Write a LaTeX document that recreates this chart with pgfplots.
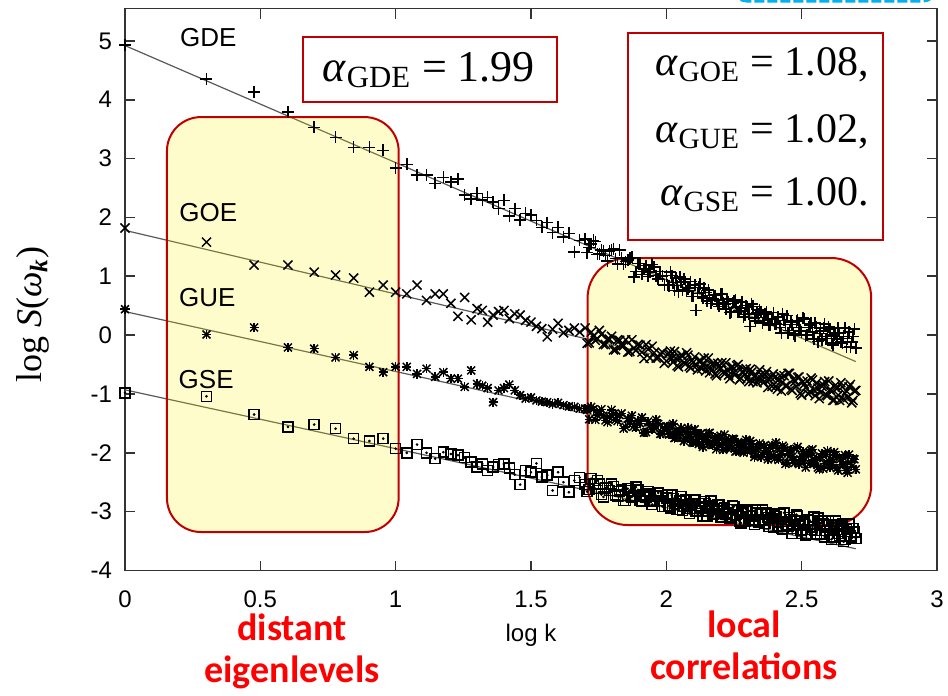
\documentclass[border=0pt]{standalone}
\usepackage{fontspec}
\setmainfont{Liberation Sans}
\newfontfamily\tnr{Liberation Serif}
\newfontfamily\calib{Carlito}
\usepackage{pgfplots}
\usepackage{pgfplotstable}
\pgfplotsset{compat=1.18}

\definecolor{boxred}{RGB}{192,0,0}
\definecolor{hlred}{RGB}{255,0,0}
\definecolor{skyblue}{RGB}{0,176,240}

% log k, then log S for the four ensembles
\pgfplotstableread{
x gde goe gue gse
0.000 4.93 1.82 0.44 -0.98
0.301 4.35 1.58 0.01 -1.04
0.477 4.13 1.19 0.13 -1.35
0.602 3.79 1.19 -0.21 -1.56
0.699 3.53 1.07 -0.23 -1.52
0.778 3.36 1.02 -0.38 -1.59
0.845 3.19 0.97 -0.34 -1.76
0.903 3.19 0.73 -0.54 -1.80
0.954 3.14 0.85 -0.63 -1.76
1.000 2.84 0.73 -0.54 -1.93
1.041 2.90 0.70 -0.54 -2.00
1.079 2.72 0.85 -0.66 -1.86
1.114 2.72 0.59 -0.57 -2.00
1.146 2.58 0.70 -0.71 -2.10
1.176 2.68 0.70 -0.63 -1.99
1.204 2.60 0.54 -0.74 -2.02
1.230 2.65 0.32 -0.74 -2.04
1.255 2.38 0.64 -0.88 -2.08
1.279 2.31 0.26 -0.60 -2.16
1.301 2.41 0.45 -0.83 -2.24
1.32 2.30 0.42 -0.86 -2.19
1.34 2.34 0.22 -0.90 -2.30
1.36 2.26 0.34 -1.14 -2.24
1.38 2.15 0.40 -0.94 -2.20
1.40 2.29 0.42 -0.90 -2.19
1.42 2.02 0.28 -0.84 -2.26
1.44 2.15 0.36 -0.94 -2.37
1.46 1.96 0.34 -1.02 -2.54
1.48 2.07 0.25 -1.08 -2.30
1.50 2.04 0.22 -1.06 -2.33
1.52 1.95 0.15 -1.11 -2.18
1.54 1.83 0.11 -1.13 -2.41
1.56 1.91 -0.03 -1.14 -2.38
1.58 1.74 0.10 -1.17 -2.64
1.60 1.83 0.20 -1.15 -2.33
1.62 1.67 0.04 -1.19 -2.50
1.64 1.73 0.08 -1.21 -2.67
1.66 1.41 0.12 -1.22 -2.47
1.68 1.61 0.05 -1.25 -2.42
1.700 1.63 0.12 -1.25 -2.54
1.715 1.49 -0.13 -1.43 -2.62
1.730 1.61 -0.02 -1.26 -2.53
1.745 1.37 -0.06 -1.36 -2.47
1.760 1.45 0.01 -1.26 -2.71
1.775 1.35 -0.16 -1.45 -2.60
1.790 1.43 -0.07 -1.39 -2.64
1.805 1.47 -0.25 -1.34 -2.57
1.820 1.21 -0.08 -1.46 -2.73
1.835 1.31 -0.18 -1.33 -2.63
1.850 1.25 -0.08 -1.56 -2.81
1.865 1.31 -0.28 -1.46 -2.64
1.880 0.99 -0.22 -1.55 -2.73
1.895 1.22 -0.16 -1.46 -2.63
1.910 1.03 -0.29 -1.40 -2.82
1.925 1.18 -0.16 -1.65 -2.75
1.940 1.07 -0.39 -1.53 -2.70
1.955 1.16 -0.30 -1.58 -2.82
1.970 0.95 -0.38 -1.51 -2.68
1.985 1.00 -0.29 -1.67 -2.91
1.7075 1.40 -0.14 -1.27 -2.66
1.7225 1.55 0.05 -1.22 -2.44
1.7375 1.59 -0.09 -1.44 -2.61
1.7525 1.38 0.08 -1.29 -2.53
1.7675 1.43 -0.16 -1.37 -2.75
1.7825 1.26 -0.07 -1.48 -2.59
1.7975 1.45 -0.02 -1.27 -2.53
1.8125 1.30 -0.25 -1.44 -2.72
1.8275 1.45 -0.09 -1.36 -2.66
1.8425 1.20 -0.18 -1.59 -2.81
1.8575 1.28 -0.29 -1.42 -2.61
1.8725 1.32 -0.08 -1.37 -2.75
1.8875 1.08 -0.26 -1.57 -2.58
1.9025 1.22 -0.17 -1.50 -2.81
1.9175 1.12 -0.40 -1.66 -2.72
1.9325 1.00 -0.24 -1.47 -2.66
1.9475 1.20 -0.19 -1.60 -2.88
1.9625 1.01 -0.39 -1.44 -2.73
1.9775 1.08 -0.32 -1.68 -2.81
1.9925 0.85 -0.48 -1.58 -2.91
2.00 1.01 -0.44 -1.55 -2.77
2.01 0.84 -0.31 -1.69 -2.90
2.02 1.01 -0.40 -1.54 -2.72
2.03 0.76 -0.28 -1.75 -2.86
2.04 0.84 -0.52 -1.65 -2.96
2.05 0.99 -0.39 -1.71 -2.82
2.06 0.77 -0.35 -1.63 -2.98
2.07 0.89 -0.49 -1.76 -2.80
2.08 0.79 -0.34 -1.58 -2.89
2.09 0.91 -0.56 -1.72 -2.95
2.10 0.66 -0.46 -1.83 -2.79
2.11 0.42 -0.52 -1.69 -2.99
2.12 0.81 -0.44 -1.85 -2.86
2.13 0.66 -0.57 -1.67 -2.95
2.14 0.80 -0.39 -1.76 -2.83
2.15 0.58 -0.53 -1.82 -3.07
2.16 0.67 -0.64 -1.66 -2.94
2.17 0.60 -0.50 -1.87 -2.90
2.18 0.67 -0.66 -1.74 -3.03
2.19 0.53 -0.48 -1.83 -2.88
2.20 0.70 -0.57 -1.71 -3.09
2.21 0.55 -0.63 -1.95 -2.99
2.22 0.44 -0.47 -1.82 -3.05
2.23 0.57 -0.68 -1.78 -2.96
2.24 0.40 -0.55 -1.92 -3.09
2.25 0.58 -0.64 -1.77 -2.91
2.26 0.48 -0.52 -1.97 -3.05
2.27 0.41 -0.76 -1.87 -3.16
2.28 0.56 -0.63 -1.93 -3.01
2.29 0.35 -0.59 -1.85 -3.17
2.30 0.47 -0.73 -1.98 -2.99
2.31 0.15 -0.58 -1.80 -3.08
2.32 0.49 -0.79 -1.94 -3.14
2.33 0.24 -0.69 -2.05 -2.97
2.34 0.36 -0.75 -1.91 -3.18
2.35 0.40 -0.67 -2.07 -3.05
2.36 0.25 -0.80 -1.88 -3.14
2.37 0.39 -0.62 -1.97 -3.02
2.38 0.17 -0.76 -2.03 -3.25
2.39 0.27 -0.87 -1.87 -3.12
2.40 0.19 -0.72 -2.10 -3.06
2.41 0.30 -0.92 -1.93 -3.24
2.42 0.13 -0.69 -2.04 -3.04
2.43 0.36 -0.80 -1.88 -3.30
2.44 0.18 -0.86 -2.19 -3.17
2.45 0.04 -0.65 -2.01 -3.24
2.46 0.22 -0.92 -1.95 -3.13
2.47 0.02 -0.75 -2.13 -3.29
2.48 0.24 -0.87 -1.93 -3.05
2.49 0.13 -0.71 -2.19 -3.23
2.50 0.06 -1.02 -2.06 -3.37
2.51 0.27 -0.83 -2.13 -3.18
2.52 0.00 -0.78 -2.01 -3.38
2.53 0.17 -0.96 -2.18 -3.15
2.54 0.05 -0.76 -1.94 -3.26
2.55 0.21 -1.03 -2.12 -3.32
2.56 -0.11 -0.90 -2.25 -3.11
2.57 0.07 -0.97 -2.07 -3.38
2.58 0.12 -0.85 -2.27 -3.21
2.59 -0.06 -1.02 -2.03 -3.32
2.60 0.14 -0.78 -2.14 -3.16
2.61 -0.13 -0.96 -2.21 -3.47
2.62 0.00 -1.10 -1.99 -3.28
2.63 -0.07 -0.91 -2.26 -3.23
2.64 0.04 -1.11 -2.08 -3.41
2.65 -0.13 -0.88 -2.20 -3.21
2.66 0.12 -0.99 -2.04 -3.47
2.67 -0.06 -1.06 -2.34 -3.34
2.68 -0.20 -0.84 -2.16 -3.41
2.69 -0.02 -1.11 -2.10 -3.29
2.70 -0.22 -0.94 -2.28 -3.46
2.005 0.86 -0.33 -1.55 -2.72
2.015 1.07 -0.27 -1.68 -2.94
2.025 0.89 -0.46 -1.51 -2.78
2.035 0.97 -0.39 -1.74 -2.86
2.045 0.74 -0.54 -1.64 -2.96
2.055 0.90 -0.34 -1.58 -2.74
2.065 0.95 -0.47 -1.80 -2.91
2.075 0.75 -0.30 -1.64 -2.81
2.085 0.81 -0.53 -1.72 -3.03
2.095 0.66 -0.43 -1.82 -2.86
2.105 0.85 -0.37 -1.60 -2.80
2.115 0.71 -0.59 -1.77 -2.99
2.125 0.87 -0.43 -1.68 -2.92
2.135 0.63 -0.51 -1.90 -3.07
2.145 0.72 -0.61 -1.73 -2.86
2.155 0.77 -0.39 -1.67 -2.99
2.165 0.54 -0.56 -1.86 -2.82
2.175 0.69 -0.47 -1.79 -3.05
2.185 0.60 -0.69 -1.94 -2.95
2.195 0.49 -0.53 -1.74 -2.89
2.205 0.70 -0.47 -1.87 -3.10
2.215 0.53 -0.66 -1.69 -2.94
2.225 0.61 -0.59 -1.92 -3.02
2.235 0.38 -0.74 -1.82 -3.12
2.245 0.54 -0.54 -1.76 -2.90
2.255 0.60 -0.67 -1.98 -3.06
2.265 0.40 -0.50 -1.82 -2.97
2.275 0.46 -0.73 -1.90 -3.19
2.285 0.31 -0.63 -2.00 -3.02
2.295 0.50 -0.57 -1.78 -2.96
2.305 0.36 -0.79 -1.95 -3.14
2.315 0.53 -0.63 -1.85 -3.07
2.325 0.29 -0.71 -2.07 -3.22
2.335 0.38 -0.81 -1.90 -3.02
2.345 0.43 -0.59 -1.84 -3.15
2.355 0.21 -0.76 -2.03 -2.97
2.365 0.36 -0.67 -1.96 -3.20
2.375 0.27 -0.89 -2.11 -3.10
2.385 0.17 -0.72 -1.91 -3.04
2.395 0.38 -0.66 -2.04 -3.26
2.405 0.19 -0.87 -1.83 -3.08
2.415 0.31 -0.76 -2.12 -3.18
2.425 0.04 -0.95 -1.98 -3.29
2.435 0.25 -0.69 -1.91 -3.02
2.445 0.33 -0.86 -2.17 -3.22
2.455 0.08 -0.65 -1.97 -3.10
2.465 0.18 -0.94 -2.07 -3.37
2.475 -0.01 -0.79 -2.17 -3.16
2.485 0.25 -0.72 -1.90 -3.07
2.495 0.08 -0.99 -2.11 -3.31
2.505 0.29 -0.79 -1.98 -3.21
2.515 -0.01 -0.89 -2.25 -3.40
2.525 0.13 -1.00 -2.04 -3.13
2.535 0.20 -0.73 -1.96 -3.30
2.545 -0.07 -0.93 -2.19 -3.09
2.555 0.13 -0.81 -2.09 -3.38
2.565 0.03 -1.08 -2.28 -3.23
2.575 -0.08 -0.87 -2.01 -3.16
2.585 0.19 -0.79 -2.18 -3.43
2.595 -0.02 -1.03 -1.97 -3.23
2.605 0.10 -0.92 -2.25 -3.32
2.615 -0.17 -1.11 -2.11 -3.43
2.625 0.04 -0.85 -2.04 -3.16
2.635 0.12 -1.02 -2.30 -3.37
2.645 -0.12 -0.81 -2.10 -3.24
2.655 -0.02 -1.09 -2.19 -3.51
2.665 -0.21 -0.95 -2.30 -3.30
2.675 0.05 -0.88 -2.03 -3.21
2.685 -0.12 -1.15 -2.23 -3.45
2.695 0.10 -0.95 -2.11 -3.35
}\spectra

\begin{document}
\begin{tikzpicture}
\useasboundingbox (-62.5pt,-62.75pt) rectangle (411.5pt,285.25pt);
\begin{axis}[
    at={(0,0)}, anchor=south west,
    width=406pt, height=281pt, scale only axis,
    xmin=0, xmax=3, ymin=-4, ymax=5.55,
    xtick={0,0.5,...,3}, ytick={-4,-3,...,5},
    /pgf/number format/assume math mode=true,
    tick label style={font=\fontsize{12}{12}\selectfont},
    xticklabel style={yshift=-6.5pt},
    yticklabel style={xshift=-3pt},
    major tick length=5pt,
    axis line style={line width=0.8pt, black!80},
    every tick/.style={line width=0.8pt, black!80},
    xlabel={log k},
    xlabel style={at={(axis description cs:0.5,-0.115)}, anchor=center, font=\fontsize{12}{12}\selectfont},
    ylabel={\tnr log \textit{S}(\textit{ω}\textsubscript{\textbf{\textit{k}}})},
    ylabel style={at={(axis description cs:-0.113,0.455)}, anchor=center, font=\fontsize{18}{18}\selectfont},
    clip=false,
]
% fitted power laws
\addplot[no marks, black!65, line width=0.6pt] coordinates {(0,4.92) (2.7,-0.45)};
\addplot[no marks, black!65, line width=0.6pt] coordinates {(0,1.78) (2.7,-1.14)};
\addplot[no marks, black!65, line width=0.6pt] coordinates {(0,0.40) (2.7,-2.35)};
\addplot[no marks, black!65, line width=0.6pt] coordinates {(0,-0.93) (2.7,-3.63)};

\addplot[only marks, mark=+, mark size=3pt, line width=0.75pt] table[x=x, y=gde] {\spectra};
\addplot[only marks, mark=x, mark size=3.2pt, line width=0.75pt] table[x=x, y=goe] {\spectra};
\addplot[only marks, mark=+, mark size=2.3pt, line width=0.75pt] table[x=x, y=gue] {\spectra};
\addplot[only marks, mark=x, mark size=2.8pt, line width=0.75pt] table[x=x, y=gue] {\spectra};
\addplot[only marks, mark=square, mark size=2.5pt, line width=0.75pt] table[x=x, y=gse] {\spectra};
\addplot[only marks, mark=*, mark size=0.45pt] table[x=x, y=gse] {\spectra};

% highlighted regions
\draw[draw=boxred, line width=1pt, fill=yellow, fill opacity=0.2, rounded corners=17pt]
    (axis cs:0.155,3.705) rectangle (axis cs:1.011,-3.346);
\draw[draw=boxred, line width=1pt, fill=yellow, fill opacity=0.2, rounded corners=20pt]
    (axis cs:1.709,1.31) rectangle (axis cs:2.757,-3.227);

% exponent boxes
\draw[boxred, line width=1pt, fill=white] (axis cs:0.658,5.065) rectangle (axis cs:1.596,3.96);
\node[font=\tnr\fontsize{22}{26}\selectfont] at (axis cs:1.123,4.51)
    {\textit{α}\textsubscript{GDE} = 1.99};
\draw[boxred, line width=1pt, fill=white] (axis cs:1.858,5.133) rectangle (axis cs:2.800,1.616);
\node[anchor=base east, font=\tnr\fontsize{21}{26}\selectfont] at (axis cs:2.774,4.42)
    {\textit{α}\textsubscript{GOE} = 1.08,};
\node[anchor=base east, font=\tnr\fontsize{21}{26}\selectfont] at (axis cs:2.774,3.28)
    {\textit{α}\textsubscript{GUE} = 1.02,};
\node[anchor=base east, font=\tnr\fontsize{21}{26}\selectfont] at (axis cs:2.774,2.21)
    {\textit{α}\textsubscript{GSE} = 1.00.};

% ensemble names
\node[font=\fontsize{13}{13}\selectfont] at (axis cs:0.308,5.06) {GDE};
\node[font=\fontsize{13}{13}\selectfont] at (axis cs:0.308,2.08) {GOE};
\node[font=\fontsize{13}{13}\selectfont] at (axis cs:0.304,0.64) {GUE};
\node[font=\fontsize{13}{13}\selectfont] at (axis cs:0.300,-0.755) {GSE};

% red captions under the axis
\node[align=center, text=hlred, font=\calib\bfseries\fontsize{19}{21}\selectfont]
    at (axis cs:0.617,-5.37) {distant\\eigenlevels};
\node[align=center, text=hlred, font=\calib\bfseries\fontsize{19}{21}\selectfont]
    at (axis cs:2.287,-5.27) {local\\correlations};

% cut-off dashed frame at the top edge
\draw[skyblue, line width=3pt, dash pattern=on 5pt off 1.5pt, rounded corners=6pt]
    (axis cs:2.236,6.1) -- (axis cs:2.256,5.70) -- (axis cs:2.99,5.70) -- (axis cs:3.01,6.1);
\end{axis}
\end{tikzpicture}
\end{document}
